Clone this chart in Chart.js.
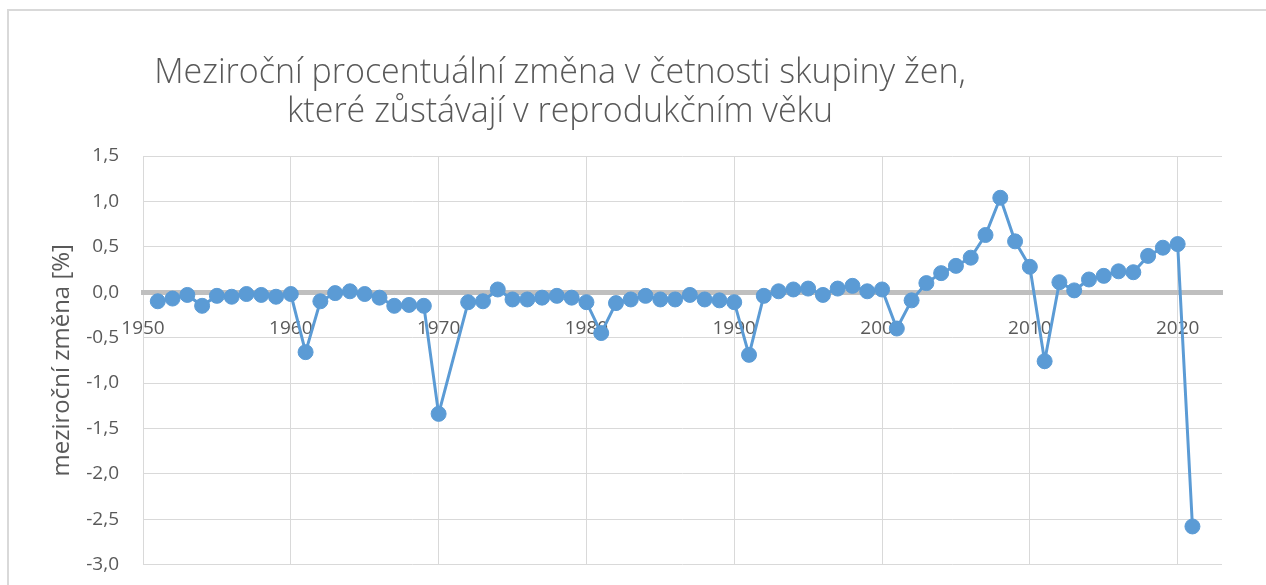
<!DOCTYPE html>
<html>
<head>
<meta charset="utf-8">
<script src="https://cdn.jsdelivr.net/npm/chart.js@4"></script>
<style>
  html, body { margin: 0; padding: 0; background: #fff; }
  body { width: 1266px; height: 585px; position: relative; overflow: hidden; }
  .frame {
    position: absolute; left: 7px; top: 9px; width: 1300px; height: 600px;
    border-left: 2px solid #d9d9d9; border-top: 2px solid #d9d9d9;
  }
  .title {
    position: absolute; left: 110px; top: 51px; width: 900px;
    text-align: center; color: #595959;
    font-family: "Open Sans", sans-serif; font-weight: 300; font-size: 34px; line-height: 39px;
  }
  canvas { position: absolute; left: 0; top: 0; }
</style>
</head>
<body>
<div class="frame"></div>
<canvas id="chart" width="1266" height="600"></canvas>
<div class="title">Meziroční procentuální změna v četnosti skupiny žen,<br>které zůstávají v reprodukčním věku</div>
<script>
// Chart data
const years = [
  1951, 1952, 1953, 1954, 1955, 1956, 1957, 1958, 1959, 1960,
  1961, 1962, 1963, 1964, 1965, 1966, 1967, 1968, 1969, 1970,
  1971, 1972, 1973, 1974, 1975, 1976, 1977, 1978, 1979, 1980,
  1981, 1982, 1983, 1984, 1985, 1986, 1987, 1988, 1989, 1990,
  1991, 1992, 1993, 1994, 1995, 1996, 1997, 1998, 1999, 2000,
  2001, 2002, 2003, 2004, 2005, 2006, 2007, 2008, 2009, 2010,
  2011, 2012, 2013, 2014, 2015, 2016, 2017, 2018, 2019, 2020,
  2021
];

// year-on-year change in % (1971 has no value in the source)
const changes = [
  -0.10, -0.07, -0.03, -0.15, -0.04, -0.05, -0.02, -0.03, -0.05, -0.02,
  -0.66, -0.10, -0.01, 0.01, -0.02, -0.06, -0.15, -0.14, -0.15, -1.34,
  null, -0.11, -0.10, 0.03, -0.08, -0.08, -0.06, -0.04, -0.06, -0.11,
  -0.45, -0.12, -0.08, -0.04, -0.08, -0.08, -0.03, -0.08, -0.09, -0.11,
  -0.69, -0.04, 0.01, 0.03, 0.04, -0.03, 0.04, 0.07, 0.01, 0.03,
  -0.40, -0.09, 0.10, 0.21, 0.29, 0.38, 0.63, 1.04, 0.56, 0.28,
  -0.76, 0.11, 0.02, 0.14, 0.18, 0.23, 0.22, 0.40, 0.49, 0.53,
  -2.58
];

const xTicks = [1950, 1960, 1970, 1980, 1990, 2000, 2010, 2020];
const yTicks = [-3.0, -2.5, -2.0, -1.5, -1.0, -0.5, 0.0, 0.5, 1.0, 1.5];
const yAxisTitle = 'meziroční změna [%]';

const textColor = '#595959';
const gridColor = '#d9d9d9';
const seriesColor = '#5b9bd5';

const points = years.map((year, i) => ({ x: year, y: changes[i] }));

const ctx = document.getElementById('chart').getContext('2d');

new Chart(ctx, {
  type: 'line',
  data: {
    datasets: [{
      data: points,
      borderColor: seriesColor,
      backgroundColor: seriesColor,
      borderWidth: 3,
      pointRadius: 7.5,
      pointBorderWidth: 1,
      pointBackgroundColor: seriesColor,
      pointBorderColor: seriesColor,
      tension: 0,
      spanGaps: true
    }]
  },
  options: {
    responsive: false,
    animation: false,
    layout: {
      padding: { top: 156, bottom: 7, right: 44, left: 0 }
    },
    plugins: {
      legend: { display: false },
      title: { display: false },
      tooltip: { enabled: false }
    },
    scales: {
      x: {
        type: 'linear',
        position: { y: 0 },
        min: 1950,
        max: 2023,
        afterBuildTicks: (scale) => {
          scale.ticks = xTicks.map(v => ({ value: v }));
        },
        grid: {
          color: gridColor,
          lineWidth: 1,
          drawTicks: false
        },
        border: {
          display: true,
          color: '#bfbfbf',
          width: 5
        },
        ticks: {
          color: textColor,
          autoSkip: false,
          maxRotation: 0,
          padding: 25,
          font: { family: 'Open Sans', size: 19 },
          callback: (value) => String(value)
        }
      },
      y: {
        type: 'linear',
        position: 'left',
        min: -3,
        max: 1.5,
        afterBuildTicks: (scale) => {
          scale.ticks = yTicks.map(v => ({ value: v }));
        },
        afterFit: (scale) => {
          scale.width = 143;
        },
        grid: {
          color: gridColor,
          lineWidth: 1,
          drawTicks: false
        },
        border: { display: false },
        ticks: {
          color: textColor,
          padding: 24,
          font: { family: 'Open Sans', size: 19 },
          callback: (value) => value.toFixed(1).replace('.', ',')
        },
        title: {
          display: true,
          text: yAxisTitle,
          color: textColor,
          font: { family: 'Open Sans', size: 24 },
          padding: { top: 48, bottom: 0 }
        }
      }
    }
  }
});
</script>
</body>
</html>
